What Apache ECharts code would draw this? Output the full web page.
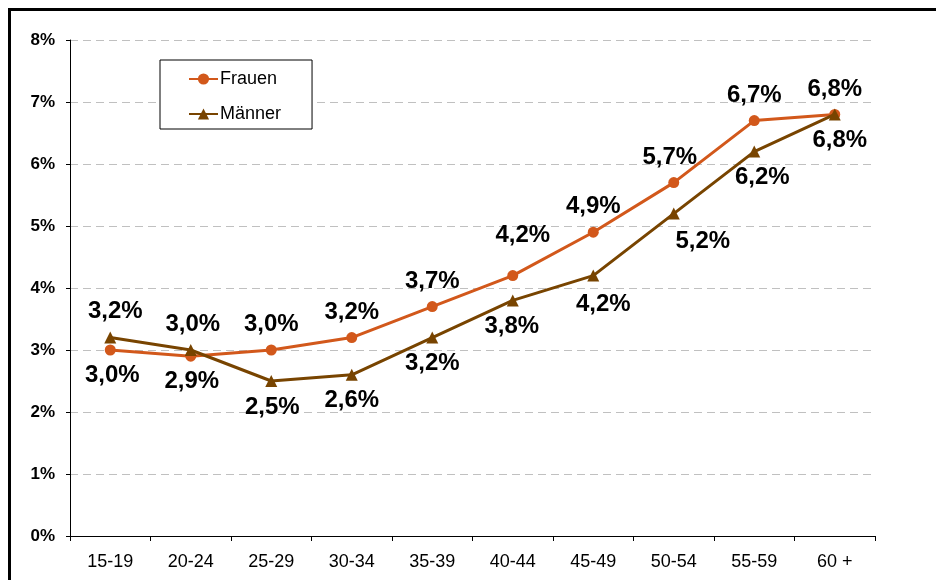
<!DOCTYPE html>
<html>
<head>
<meta charset="utf-8">
<script src="https://cdn.jsdelivr.net/npm/echarts@6/dist/echarts.min.js"></script>
<style>
html,body{margin:0;padding:0;background:#fff;}
#chart{width:936px;height:580px;}
</style>
</head>
<body>
<div id="chart"></div>
<script>
// ---- data ----
const categories = ['15-19','20-24','25-29','30-34','35-39','40-44','45-49','50-54','55-59','60 +'];
const frauen = [3.0, 2.9, 3.0, 3.2, 3.7, 4.2, 4.9, 5.7, 6.7, 6.8];
const maenner = [3.2, 3.0, 2.5, 2.6, 3.2, 3.8, 4.2, 5.2, 6.2, 6.8];
const yTicks = ['0%','1%','2%','3%','4%','5%','6%','7%','8%'];

// ---- label placement (styling) ----
const frauenLabelPos = ['bottom','bottom','top','top','top','top','top','top','top','top'];
const maennerLabelPos = ['top','top','bottom','bottom','bottom','bottom','bottom','bottom','bottom','bottom'];
const frauenLabelDx = [2, 1, 0, 0, 0, 10, 0, -4, 0, 0];
const frauenLabelDy = [0, 0, 0, 0, 0, -15, 0, 0, 0, 0];
const maennerLabelDx = [5, 2, 1, 0, 0, -1, 10, 29, 8, 5];
const maennerLabelDy = [0, 0, 0, 0, 0, 0, 3, 2, 0, 0];

const FONT = '"Liberation Sans", Arial, sans-serif';
const C_F = '#D2581B';
const C_M = '#784400';

function buildData(vals, pos, dx, dy) {
  return vals.map((v, i) => ({
    value: v,
    label: { position: pos[i], offset: [dx[i], dy[i]] }
  }));
}

const labelBase = {
  show: true,
  distance: 8,
  fontFamily: FONT,
  fontWeight: 'bold',
  fontSize: 24,
  color: '#000',
  formatter: p => p.value.toFixed(1).replace('.', ',') + '%'
};

const chart = echarts.init(document.getElementById('chart'), null, {renderer: 'canvas'});
chart.setOption({
  animation: false,
  backgroundColor: '#fff',
  graphic: [{
    type: 'rect',
    shape: {x: 9.5, y: 9.5, width: 960, height: 620},
    style: {fill: 'none', stroke: '#000', lineWidth: 3},
    silent: true,
    z: 100
  }],
  grid: {left: 70, right: 61, top: 40, bottom: 44, containLabel: false},
  legend: {
    orient: 'vertical',
    left: 160,
    top: 60,
    padding: [10, 31, 6, 28],
    itemGap: 17,
    itemWidth: 29,
    itemHeight: 14,
    borderColor: '#000',
    borderWidth: 1,
    backgroundColor: '#fff',
    textStyle: {fontFamily: FONT, fontSize: 18, color: '#000', padding: [0, 0, 0, -3]},
    data: ['Frauen', 'Männer']
  },
  xAxis: {
    type: 'category',
    data: categories,
    boundaryGap: true,
    axisLine: {lineStyle: {color: '#000', width: 1}},
    axisTick: {show: true, length: 5, lineStyle: {color: '#000'}},
    axisLabel: {fontFamily: FONT, fontSize: 18, color: '#000', margin: 17}
  },
  yAxis: {
    type: 'value',
    min: 0,
    max: 8,
    interval: 1,
    axisLine: {show: true, lineStyle: {color: '#000', width: 1}},
    axisTick: {show: true, length: 4, lineStyle: {color: '#000'}},
    axisLabel: {
      fontFamily: FONT, fontSize: 17, fontWeight: 'bold', color: '#000', margin: 15,
      formatter: v => yTicks[Math.round(v)]
    },
    splitLine: {show: true, lineStyle: {color: '#C0C0C0', type: [8, 5], width: 1}}
  },
  series: [
    {
      name: 'Frauen',
      type: 'line',
      data: buildData(frauen, frauenLabelPos, frauenLabelDx, frauenLabelDy),
      symbol: 'circle',
      symbolSize: 11,
      lineStyle: {color: C_F, width: 3},
      itemStyle: {color: C_F},
      label: labelBase,
      z: 3
    },
    {
      name: 'Männer',
      type: 'line',
      data: buildData(maenner, maennerLabelPos, maennerLabelDx, maennerLabelDy),
      symbol: 'triangle',
      symbolSize: 12,
      lineStyle: {color: C_M, width: 3},
      itemStyle: {color: C_M},
      label: labelBase,
      z: 4
    }
  ]
});
</script>
</body>
</html>
